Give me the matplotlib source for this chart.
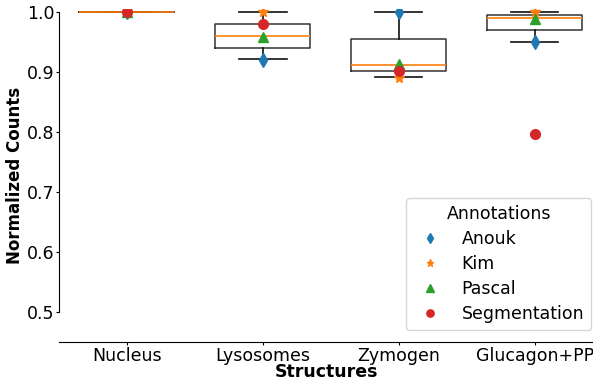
import numpy as np
import matplotlib.pyplot as plt

structures = ['Nucleus', 'Lysosomes', 'Zymogen', 'Glucagon+PP']

# box statistics
q1 = [1.0, 0.940, 0.901, 0.971]
med = [1.0, 0.961, 0.911, 0.990]
q3 = [1.0, 0.980, 0.956, 0.995]
whislo = [1.0, 0.921, 0.891, 0.951]
whishi = [1.0, 1.0, 1.0, 1.0]

# per-annotator values
annotators = ['Anouk', 'Kim', 'Pascal', 'Segmentation']
anouk = [1.0, 0.920, 1.0, 0.951]
kim = [1.0, 1.0, 0.890, 1.0]
pascal = [1.0, 0.959, 0.914, 0.988]
segmentation = [1.0, 0.980, 0.902, 0.797]

markers = ['d', '*', '^', 'o']
colors = ['#1f77b4', '#ff7f0e', '#2ca02c', '#d62728']

fig, ax = plt.subplots(figsize=(5.93, 3.81), dpi=100)
fig.subplots_adjust(left=0.0995, right=1.0, top=0.976, bottom=0.103)

x = np.arange(len(structures))
stats = []
for i, name in enumerate(structures):
    stats.append(dict(label=name, q1=q1[i], med=med[i], q3=q3[i],
                      whislo=whislo[i], whishi=whishi[i], fliers=[]))
ax.bxp(stats, positions=x, widths=0.7, showfliers=False,
       boxprops=dict(color='#333333', linewidth=1.1),
       whiskerprops=dict(color='#111111', linewidth=1.2),
       capprops=dict(color='#111111', linewidth=1.2),
       medianprops=dict(color='#ff7f0e', linewidth=1.2))

for vals, name, m, c in zip([anouk, kim, pascal, segmentation], annotators, markers, colors):
    ax.plot(x, vals, linestyle='none', marker=m, color=c, markersize=7,
            label=name, zorder=3)

ax.set_xlim(-0.5, 3.43)
ax.set_ylim(0.45, 1.005)
ax.set_yticks([0.5, 0.6, 0.7, 0.8, 0.9, 1.0])
ax.set_xticks(x)
ax.set_xticklabels(structures)
ax.tick_params(labelsize=12.5, length=2, pad=1.5)
ax.spines['top'].set_visible(False)
ax.spines['right'].set_visible(False)
ax.spines['left'].set_bounds(0.5, 1.0)
ax.set_xlabel('Structures', fontsize=12.5, fontweight='bold', labelpad=-1)
ax.set_ylabel('Normalized Counts', fontsize=12, fontweight='bold', labelpad=2)

leg = ax.legend(title='Annotations', loc='lower right', bbox_to_anchor=(1.0, 0.03),
                fontsize=12.5, title_fontsize=12.5, markerscale=0.75,
                borderaxespad=0.1, labelspacing=0.4)

plt.savefig('out.png', dpi=100)
